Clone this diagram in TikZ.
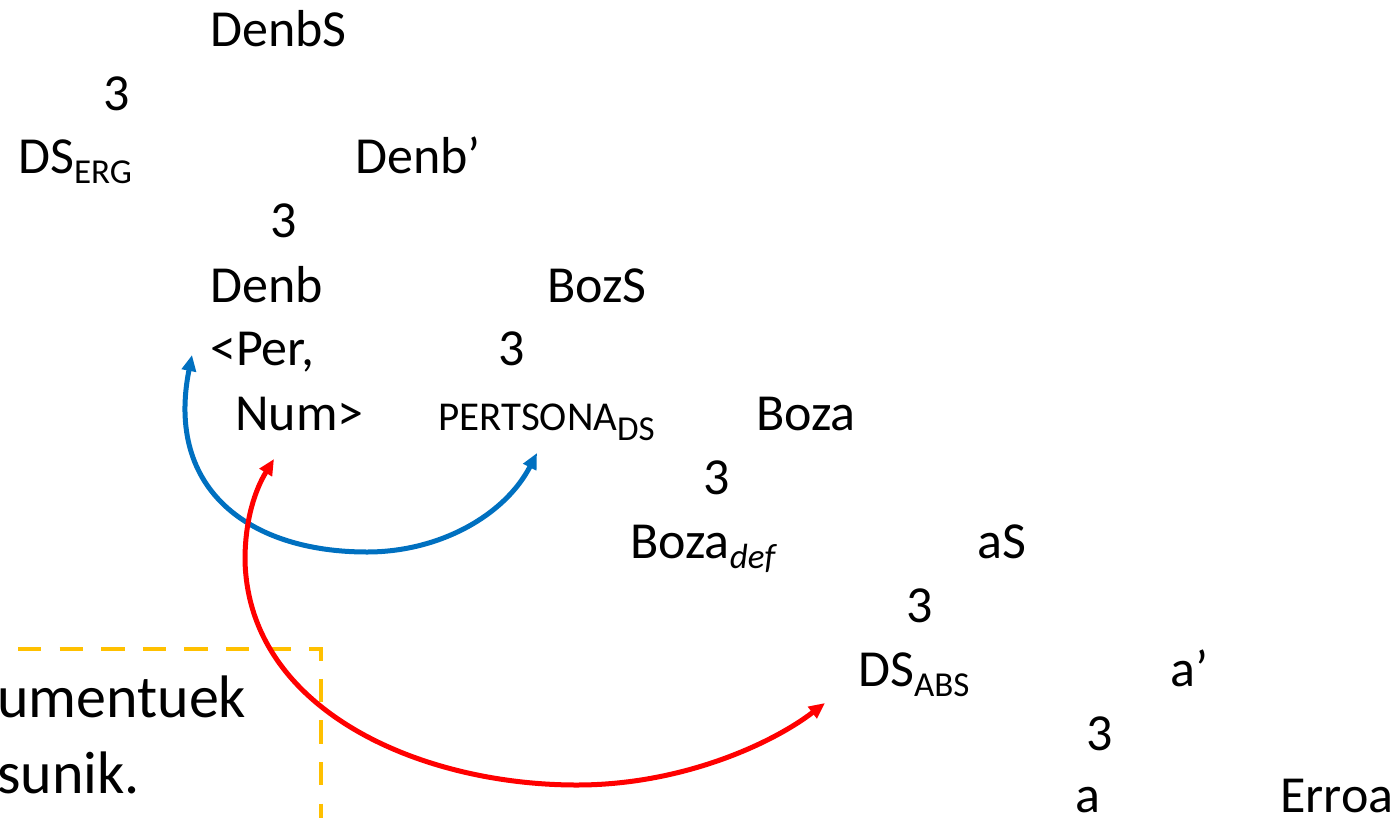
\documentclass[tikz,border=0pt]{standalone}
\usepackage{fontspec}
\setmainfont{Carlito}
\usetikzlibrary{arrows.meta}

\definecolor{linkblue}{HTML}{0070C0}
\definecolor{linkred}{HTML}{FF0000}
\definecolor{boxgold}{HTML}{FFC000}
\newcommand{\lowsub}[1]{\raisebox{-10pt}{\fontsize{35}{42}\selectfont #1}}

\begin{document}
\begin{tikzpicture}[x=1pt, y=-1pt,
    lbl/.style={anchor=base west, inner sep=0pt, font=\fontsize{52}{62}\selectfont},
    note/.style={anchor=base west, inner sep=0pt, font=\fontsize{60}{72}\selectfont},
    link/.style={line width=5pt, {Triangle[length=16pt,width=14pt]}-{Triangle[length=16pt,width=14pt]}}]

 \useasboundingbox (0,0) rectangle (1397,817);

	%draw tree
    \foreach \x/\y/\txt/\name in { 210/46/DenbS/denbS, 103/110/3/t1, 18/173/{DS\lowsub{ERG}}/dsErg, 355/173/{Denb’}/denbBar,
                                   270/237/3/t2, 210/302/Denb/denb, 547/302/BozS/bozS, 210/365/{<Per,}/per,
                                   498/365/3/t3, 235/430/{Num>}/num, 756/430/Boza/bozaBar,
                                   703/494/3/t4, 630/558/{Boza\lowsub{\itshape def}}/bozaDef, 977/558/aS/aS,
                                   906/622/3/t5, 858/686/{DS\lowsub{ABS}}/dsAbs, 1170/686/{a’}/aBar,
                                   1086/750/3/t6, 1075/812/a/a, 1280/812/Erroa/erroa }{
         \node[lbl] (\name) at (\x,\y) {\txt};
    }
 \node[lbl] (pers) at (438,430) {{\fontsize{41}{49}\selectfont PERTSONA}\lowsub{DS}};

	%box
 \draw[boxgold, line width=4.5pt, dash pattern=on 23.3pt off 18.3pt] (-23.6,649) -- (321,649) -- (321,840);
 \node[note] (line1) at (-3,717) {umentuek};
 \node[note] (line2) at (-3,793) {sunik.};

	%arrows
 \coordinate (bTop) at (192,355);
 \coordinate (bBot) at (367,552);
 \coordinate (bEnd) at (537,453);
 \draw[link, linkblue] (bTop) .. controls (165,490) and (250,552) .. (bBot) .. controls (440,552) and (505,515) .. (bEnd);

 \coordinate (rTop) at (274,459);
 \coordinate (rLeft) at (245,560);
 \coordinate (rBot) at (577,785);
 \coordinate (rEnd) at (825,703);
 \draw[link, linkred] (rTop) .. controls (255,490) and (245,520) .. (rLeft) .. controls (248,710) and (420,785) .. (rBot) .. controls (680,785) and (770,745) .. (rEnd);

\end{tikzpicture}
\end{document}
